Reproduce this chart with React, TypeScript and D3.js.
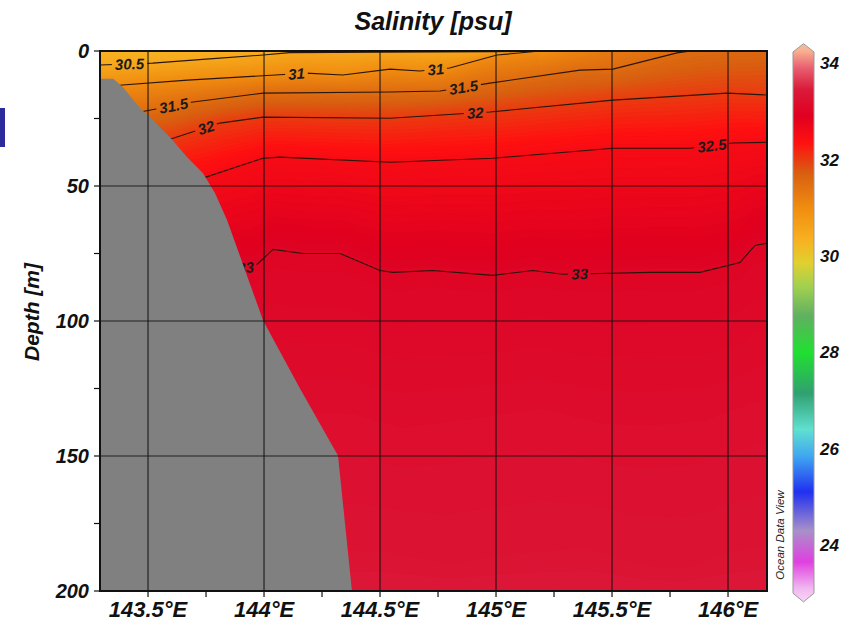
import React, { useMemo } from "react";
import * as d3 from "d3";

const WIDTH = 852;
const HEIGHT = 623;

// ---- axes ----
const lonDomain = [143.293, 146.168];
const depthDomain = [0, 200];
const lonMajorTicks = [143.5, 144, 144.5, 145, 145.5, 146];
const lonMinorTicks = [143.75, 144.25, 144.75, 145.25, 145.75];
const depthMajorTicks = [0, 50, 100, 150, 200];
const depthMinorTicks = [25, 75, 125, 175];
const colorbarTicks = [24, 26, 28, 30, 32, 34];

// ---- ODV-like palette (salinity -> colour) ----
const paletteValues = [22.8, 23.1, 23.65, 24.3, 25.1, 25.85, 26.4, 27.15, 28.0, 28.75, 29.35, 29.85, 30.35, 31.0, 31.7, 32.35, 32.9, 33.45, 33.9, 34.25, 34.45];
const paletteColors = ["#f8d8f8", "#f0b8f0", "#e040e0", "#a890c8", "#2030f0", "#40a8f0", "#60e0d0", "#30a070", "#20e030", "#60b060", "#a0d050", "#e0d030", "#f8b020", "#f08c10", "#d86010", "#ff1010", "#e00020", "#da1a3a", "#e86070", "#f8b090", "#f8c0a8"];

// ---- surface salinity along the section ----
const surfaceLon = [143.293, 143.6, 144.0, 144.11, 145.0, 145.12, 145.19, 145.3, 145.5, 145.78, 145.9, 146.168];
const surfaceSal = [30.3, 30.3, 30.38, 30.45, 30.46, 30.6, 30.95, 31.08, 31.3, 31.48, 31.53, 31.6];

// ---- isohaline depths [m] read along longitude ----
const iso305Lon = [143.293, 143.52, 143.75, 143.996, 144.11, 144.5, 145.0, 145.19];
const iso305Depth = [5.2, 4.5, 3.0, 1.5, 0.6, 0.4, 0.3, 0];
const iso31Lon = [143.293, 143.39, 143.67, 144.05, 144.18, 144.34, 144.543, 144.672, 144.8, 145.004, 145.19];
const iso31Depth = [13.5, 12.6, 10.8, 8.9, 8.2, 8.9, 6.7, 7.4, 6.3, 1.5, 0];
const iso315Lon = [143.293, 143.466, 143.694, 143.996, 144.543, 144.759, 144.974, 145.362, 145.504, 145.78, 145.84];
const iso315Depth = [24, 22.6, 18.9, 15.6, 15.2, 14.8, 11.9, 7.1, 6.7, 0.7, 0];
const iso32Lon = [143.293, 143.608, 143.81, 143.996, 144.543, 144.815, 144.974, 145.504, 145.996, 146.168];
const iso32Depth = [36, 32.3, 26.7, 24.5, 24.9, 23.4, 22.6, 18.2, 15.6, 16.3];
const iso325Lon = [143.293, 143.746, 143.996, 144.069, 144.543, 144.987, 145.504, 145.836, 146.021, 146.168];
const iso325Depth = [52, 46.8, 39.7, 39.3, 41.2, 39.7, 36, 36, 34.1, 33.8];
const iso33Lon = [143.293, 143.95, 143.974, 144.039, 144.168, 144.328, 144.5, 144.556, 144.728, 144.987, 145.159, 145.289, 145.448, 145.664, 145.879, 146.052, 146.116, 146.168];
const iso33Depth = [85, 80, 78.7, 73.5, 75, 75, 81.3, 82, 81.3, 83.1, 81.3, 82.7, 82.4, 82, 82, 78.3, 72, 71.2];
const iso332Lon = [143.293, 144.4, 144.6, 144.9, 145.2, 145.45, 145.65, 145.9, 146.05, 146.168];
const iso332Depth = [140, 141, 146, 142, 138, 144, 145, 143, 138, 135];
const iso333Lon = [143.293, 144.5, 144.8, 145.1, 145.4, 145.6, 145.8, 146.0, 146.168];
const iso333Depth = [186, 185, 190, 186, 184, 190, 192, 186, 183];
const bottomSal = 33.38;

// ---- bottom topography ----
const bathyLon = [143.293, 143.35, 143.392, 143.466, 143.509, 143.595, 143.668, 143.737, 143.789, 143.841, 143.996, 144.155, 144.319, 144.379];
const bathyDepth = [10.3, 10.3, 13.4, 21.2, 24.5, 31.9, 39.3, 45.3, 52.7, 62.7, 99.8, 125, 149.9, 200];

// contour levels drawn as lines, and where their labels sit (longitude)
const drawnLevels = [30.5, 31, 31.5, 32, 32.5, 33];
const labelLevels = [30.5, 31, 31, 31.5, 31.5, 32, 32, 32.5, 33, 33];
const labelLons = [143.42, 144.14, 144.74, 143.61, 144.86, 143.75, 144.91, 145.93, 145.36, 143.92];

const isoSets = [
  { v: 30.5, lon: iso305Lon, depth: iso305Depth },
  { v: 31, lon: iso31Lon, depth: iso31Depth },
  { v: 31.5, lon: iso315Lon, depth: iso315Depth },
  { v: 32, lon: iso32Lon, depth: iso32Depth },
  { v: 32.5, lon: iso325Lon, depth: iso325Depth },
  { v: 33, lon: iso33Lon, depth: iso33Depth },
  { v: 33.2, lon: iso332Lon, depth: iso332Depth },
  { v: 33.3, lon: iso333Lon, depth: iso333Depth },
];

// layout
const PL = 100, PR = 767, PT = 51, PB = 591;
const FONT = "'Liberation Sans', Arial, Helvetica, sans-serif";

export default function App() {
  const m = useMemo(() => {
    const x = d3.scaleLinear().domain(lonDomain).range([PL, PR]);
    const y = d3.scaleLinear().domain(depthDomain).range([PT, PB]);
    const color = d3.scaleLinear<string>().domain(paletteValues).range(paletteColors).interpolate(d3.interpolateRgb).clamp(true);
    const surf = d3.scaleLinear().domain(surfaceLon).range(surfaceSal).clamp(true);
    const levels = isoSets.map((s) => ({
      v: s.v,
      lon: s.lon,
      depth: s.depth,
      fn: d3.scaleLinear().domain(s.lon).range(s.depth).clamp(true),
      maxLon: d3.max(s.lon) as number,
    }));

    const profile = (lon: number) => {
      const s0 = surf(lon);
      const pts: [number, number][] = [[0, s0]];
      for (const l of levels) {
        if (lon > l.maxLon + 1e-9) continue;
        if (l.v <= pts[pts.length - 1][1]) continue;
        const d = l.fn(lon);
        if (d > pts[pts.length - 1][0] + 0.01) pts.push([d, l.v]);
      }
      pts.push([Math.max(200.5, pts[pts.length - 1][0] + 1), bottomSal]);
      return pts;
    };
    const interp = (pts: [number, number][], d: number) => {
      if (d <= pts[0][0]) return pts[0][1];
      for (let k = 1; k < pts.length; k++) {
        if (d <= pts[k][0]) {
          const t = (d - pts[k - 1][0]) / (pts[k][0] - pts[k - 1][0]);
          return pts[k - 1][1] + t * (pts[k][1] - pts[k - 1][1]);
        }
      }
      return pts[pts.length - 1][1];
    };

    const nx = 334, ny = 270;
    const cw = (PR - PL) / nx, ch = (PB - PT) / ny;
    const values = new Array(nx * ny);
    for (let i = 0; i < nx; i++) {
      const lon = x.invert(PL + (i + 0.5) * cw);
      const pts = profile(lon);
      for (let j = 0; j < ny; j++) {
        const d = y.invert(PT + (j + 0.5) * ch);
        values[j * nx + i] = interp(pts, d);
      }
    }
    const step = 0.04;
    const thresholds: number[] = [];
    for (let k = 0; k < 95; k++) thresholds.push(+(29.9 + k * step).toFixed(3));
    const contours = d3.contours().size([nx, ny]).thresholds(thresholds)(values);
    const proj = d3.geoTransform({
      point(px: number, py: number) {
        (this as any).stream.point(PL + px * cw, PT + py * ch);
      },
    });
    const gp = d3.geoPath(proj);
    const bands = contours
      .filter((c) => c.coordinates.length > 0)
      .map((c) => ({ d: gp(c as any) || "", fill: color(c.value + step / 2) }));

    const lineGen = d3.line<[number, number]>().x((p) => x(p[0])).y((p) => y(p[1]));
    const isoLines = levels
      .filter((l) => drawnLevels.includes(l.v))
      .map((l) => ({ v: l.v, d: lineGen(l.lon.map((lo, k) => [lo, l.depth[k]] as [number, number])) || "" }));

    const labels = labelLons.map((lon, k) => {
      const lvl = levels.find((l) => l.v === labelLevels[k])!;
      const px = x(lon), py = y(lvl.fn(lon));
      const dx = x(lon + 0.02) - x(lon - 0.02);
      const dy = y(lvl.fn(lon + 0.02)) - y(lvl.fn(lon - 0.02));
      const ang = (Math.atan2(dy, dx) * 180) / Math.PI;
      const txt = String(labelLevels[k]);
      const w = txt.split("").reduce((a, ch2) => a + (ch2 === "." ? 0.278 : 0.556), 0) * 15 + 6;
      return { px, py, ang, txt, w };
    });

    const land = lineGen([
      ...bathyLon.map((lo, k) => [lo, bathyDepth[k]] as [number, number]),
      [lonDomain[0], depthDomain[1]] as [number, number],
    ]) + "Z";

    const cb = d3.scaleLinear().domain([24, 34]).range([545, 63]);
    const cbX0 = 793, cbX1 = 814, cbXm = (cbX0 + cbX1) / 2;
    const yTip = cb(34.4), yTop = cb(34.23), yBot = cb(23.0), yTipB = cb(22.82);
    const cbPath = `M${cbX0},${yTop}L${cbXm},${yTip}L${cbX1},${yTop}L${cbX1},${yBot}L${cbXm},${yTipB}L${cbX0},${yBot}Z`;
    // stops ordered top (high salinity) -> bottom so offsets increase
    const gradStops: { off: number; c: string }[] = [];
    for (let k = 0; k <= 233; k++) {
      const v = 34.45 - k * 0.05;
      const off = (cb(v) - yTip) / (yTipB - yTip);
      gradStops.push({ off: Math.max(0, Math.min(1, off)), c: color(v) });
    }

    return { x, y, bands, isoLines, labels, land, cb, cbPath, gradStops, yTip, yTipB };
  }, []);

  const { x, y, cb } = m;
  const tickStyle = { fontFamily: FONT, fontWeight: 700, fontStyle: "italic" as const, fill: "#111" };

  return (
    <svg width={WIDTH} height={HEIGHT} style={{ position: "absolute", left: 0, top: 0, display: "block", background: "#fff" }}>
      <defs>
        <clipPath id="plotClip">
          <rect x={PL} y={PT} width={PR - PL} height={PB - PT} />
        </clipPath>
        <mask id="lblMask" maskUnits="userSpaceOnUse" x={0} y={0} width={WIDTH} height={HEIGHT}>
          <rect x={0} y={0} width={WIDTH} height={HEIGHT} fill="#fff" />
          {m.labels.map((l, k) => (
            <rect key={k} x={-l.w / 2} y={-7} width={l.w} height={14} fill="#000" transform={`translate(${l.px},${l.py}) rotate(${l.ang})`} />
          ))}
        </mask>
        <linearGradient id="cbGrad" gradientUnits="userSpaceOnUse" x1={0} y1={m.yTip} x2={0} y2={m.yTipB}>
          {m.gradStops.map((s, k) => (
            <stop key={k} offset={s.off} stopColor={s.c} />
          ))}
        </linearGradient>
      </defs>

      {/* stray slide marker at the left edge */}
      <rect x={0} y={108} width={5} height={39} fill="#2b2b9b" />

      <g clipPath="url(#plotClip)">
        {m.bands.map((b, k) => (
          <path key={k} d={b.d} fill={b.fill} stroke={b.fill} strokeWidth={0.3} />
        ))}
        <g mask="url(#lblMask)">
          {m.isoLines.map((l, k) => (
            <path key={k} d={l.d} fill="none" stroke="#2a160a" strokeWidth={1.1} />
          ))}
        </g>
        {m.labels.map((l, k) => (
          <text key={k} transform={`translate(${l.px},${l.py}) rotate(${l.ang})`} textAnchor="middle" dy="0.36em" fontSize={15} {...tickStyle} fill="#1a1a1a">
            {l.txt}
          </text>
        ))}
        <path d={m.land} fill="#808080" stroke="none" />
        {lonMajorTicks.map((t) => (
          <line key={t} x1={x(t)} x2={x(t)} y1={PT} y2={PB} stroke="#111" strokeOpacity={0.85} strokeWidth={1.2} />
        ))}
        {[50, 100, 150].map((t) => (
          <line key={t} x1={PL} x2={PR} y1={y(t)} y2={y(t)} stroke="#111" strokeOpacity={0.85} strokeWidth={1.2} />
        ))}
      </g>
      <rect x={PL} y={PT} width={PR - PL} height={PB - PT} fill="none" stroke="#111" strokeWidth={2} />

      {/* x axis */}
      {[...lonMajorTicks, ...lonMinorTicks].map((t) => (
        <line key={"xt" + t} x1={x(t)} x2={x(t)} y1={PB} y2={PB + 6} stroke="#111" strokeWidth={1.2} />
      ))}
      {lonMajorTicks.map((t) => (
        <text key={"xl" + t} x={x(t)} y={617} textAnchor="middle" fontSize={22} {...tickStyle}>
          {t + "°E"}
        </text>
      ))}
      {/* y axis */}
      {[...depthMajorTicks, ...depthMinorTicks].map((t) => (
        <line key={"yt" + t} x1={PL - 6} x2={PL} y1={y(t)} y2={y(t)} stroke="#111" strokeWidth={1.2} />
      ))}
      {depthMajorTicks.map((t) => (
        <text key={"yl" + t} x={89} y={y(t)} dy="0.36em" textAnchor="end" fontSize={20} {...tickStyle}>
          {t}
        </text>
      ))}
      <text transform="translate(39,312) rotate(-90)" textAnchor="middle" fontSize={21} {...tickStyle}>
        Depth [m]
      </text>
      <text x={433} y={30} textAnchor="middle" fontSize={25} {...tickStyle}>
        Salinity [psu]
      </text>

      {/* colour bar */}
      <path d={m.cbPath} fill="url(#cbGrad)" stroke="#9a9a9a" strokeWidth={1} />
      {colorbarTicks.map((t) => (
        <text key={"cb" + t} x={820} y={cb(t)} dy="0.36em" fontSize={17} {...tickStyle}>
          {t}
        </text>
      ))}
      <text transform="translate(784,535) rotate(-90)" textAnchor="middle" fontSize={11.5} fontFamily={FONT} fontStyle="italic" fill="#222">
        Ocean Data View
      </text>
    </svg>
  );
}
